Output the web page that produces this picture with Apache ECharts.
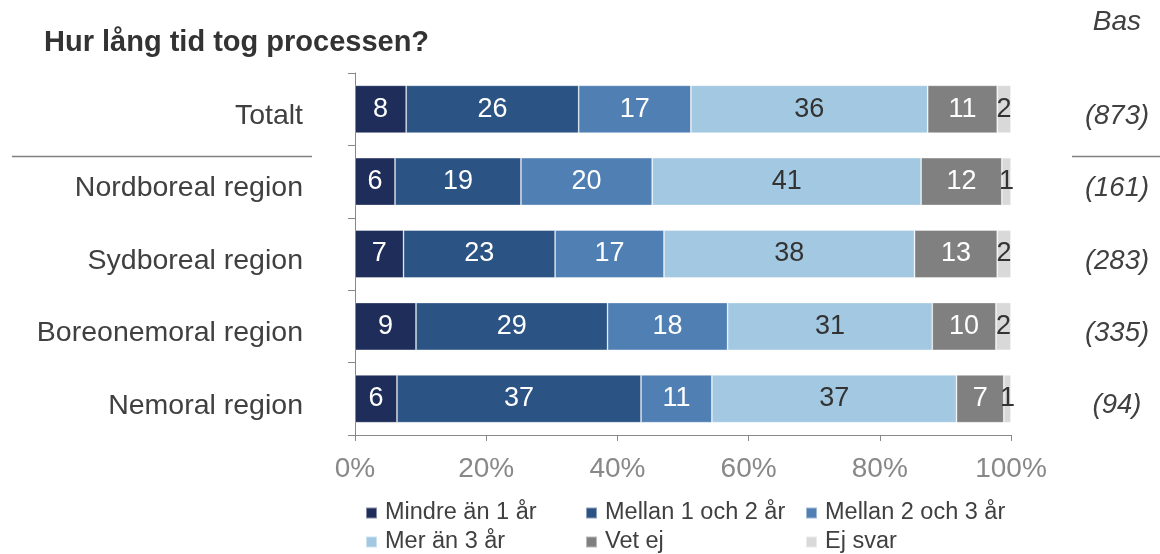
<!DOCTYPE html>
<html>
<head>
<meta charset="utf-8">
<script src="https://cdn.jsdelivr.net/npm/echarts@6/dist/echarts.min.js"></script>
<style>
html,body{margin:0;padding:0;background:#fff;}
#chart{width:1160px;height:554px;}
</style>
</head>
<body>
<div id="chart"></div>
<script>
const categories = ['Totalt', 'Nordboreal region', 'Sydboreal region', 'Boreonemoral region', 'Nemoral region'];
const bases = ['(873)', '(161)', '(283)', '(335)', '(94)'];
const seriesNames = ['Mindre än 1 år', 'Mellan 1 och 2 år', 'Mellan 2 och 3 år', 'Mer än 3 år', 'Vet ej', 'Ej svar'];
const mindre1 = [7.8, 6.1, 7.4, 9.3, 6.4];
const mellan12 = [26.3, 19.2, 23.1, 29.2, 37.2];
const mellan23 = [17.1, 20.0, 16.6, 18.3, 10.8];
const mer3 = [36.1, 41.0, 38.2, 31.2, 37.3];
const vetEj = [10.6, 12.3, 12.6, 9.7, 7.2];
const ejSvar = [2.1, 1.4, 2.1, 2.3, 1.1];
const xTicks = [0, 20, 40, 60, 80, 100];

const colors = ['#1f2d5a', '#2b5384', '#4f7fb3', '#a2c8e2', '#808080', '#d9d9d9'];
const labelColors = ['#ffffff', '#ffffff', '#ffffff', '#333333', '#ffffff', '#333333'];
const values = [mindre1, mellan12, mellan23, mer3, vetEj, ejSvar];
const FONT = "'Liberation Sans', Arial, sans-serif";

const chart = echarts.init(document.getElementById('chart'), null, {renderer: 'canvas'});

const series = seriesNames.map((name, i) => ({
  name: name,
  type: 'bar',
  stack: 'total',
  barCategoryGap: '34%',
  data: values[i],
  itemStyle: {color: colors[i], borderColor: 'rgba(255,255,255,0.45)', borderWidth: 0.8},
  label: {
    show: true,
    position: 'inside',
    color: labelColors[i],
    fontSize: 27,
    fontFamily: FONT,
    formatter: p => Math.round(p.value)
  },
  emphasis: {disabled: true}
}));

const legendBase = {
  left: 365, padding: 0, orient: 'horizontal',
  itemWidth: 11, itemHeight: 11, itemGap: 13,
  icon: 'rect',
  selectedMode: false,
  textStyle: {fontSize: 23.5, color: '#404040', fontFamily: FONT, width: 187, lineHeight: 24,
    overflow: 'none', padding: [0, 0, 0, 3]}
};

chart.setOption({
  animation: false,
  color: colors,
  textStyle: {fontFamily: FONT},
  title: [
    {text: 'Hur lång tid tog processen?', left: 39, top: 23,
     textStyle: {fontSize: 29, fontWeight: 'bold', color: '#333333', fontFamily: FONT}},
    {text: 'Bas', right: 14, top: 3,
     textStyle: {fontSize: 28, fontStyle: 'italic', fontWeight: 'normal', color: '#404040', fontFamily: FONT}}
  ],
  grid: {left: 355, right: 149, top: 73, bottom: 119, containLabel: false},
  legend: [
    Object.assign({}, legendBase, {top: 501, data: seriesNames.slice(0, 3)}),
    Object.assign({}, legendBase, {top: 530, data: seriesNames.slice(3, 6)})
  ],
  xAxis: {
    type: 'value', min: 0, max: 100, interval: 20,
    axisLine: {show: true, lineStyle: {color: '#888888', width: 1}},
    axisTick: {show: true, length: 6, lineStyle: {color: '#888888'}},
    splitLine: {show: false},
    axisLabel: {formatter: '{value}%', fontSize: 28, color: '#888888', margin: 20, fontFamily: FONT,
      customValues: xTicks}
  },
  yAxis: [
    {
      type: 'category', data: categories, inverse: true,
      axisLine: {show: true, lineStyle: {color: '#888888', width: 1}},
      axisTick: {show: true, length: 7, lineStyle: {color: '#888888'}},
      axisLabel: {fontSize: 28.5, color: '#404040', margin: 52, fontFamily: FONT,
        verticalAlign: 'top', lineHeight: 14}
    },
    {
      type: 'category', data: bases, inverse: true, position: 'right',
      axisLine: {show: false}, axisTick: {show: false},
      axisLabel: {fontSize: 27.5, color: '#404040', margin: 106, align: 'center', fontStyle: 'italic',
        fontFamily: FONT, verticalAlign: 'top', lineHeight: 14}
    }
  ],
  graphic: [
    {type: 'line', shape: {x1: 12, y1: 156.5, x2: 312, y2: 156.5}, style: {stroke: '#808080', lineWidth: 1.5}},
    {type: 'line', shape: {x1: 1072, y1: 156.5, x2: 1160, y2: 156.5}, style: {stroke: '#808080', lineWidth: 1.5}}
  ],
  series: series
});
</script>
</body>
</html>
